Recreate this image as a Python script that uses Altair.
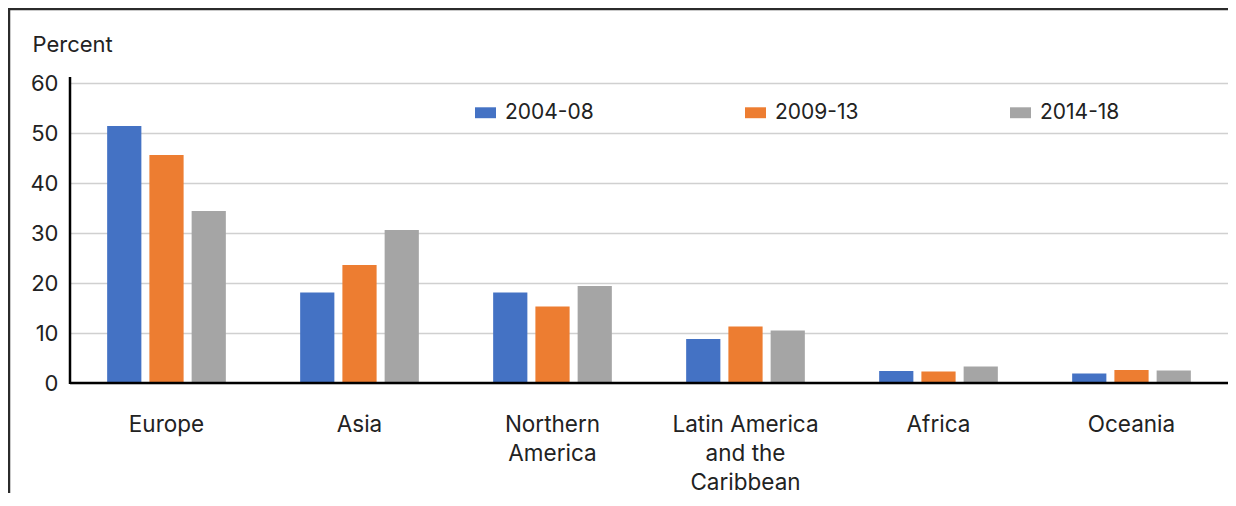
import altair as alt
import pandas as pd

regions = ["Europe", "Asia", "Northern America",
           "Latin America and the Caribbean", "Africa", "Oceania"]
periods = ["2004-08", "2009-13", "2014-18"]
v_2004_08 = [51.4, 18.1, 18.1, 8.8, 2.4, 1.9]
v_2009_13 = [45.6, 23.6, 15.3, 11.3, 2.3, 2.6]
v_2014_18 = [34.4, 30.6, 19.4, 10.5, 3.3, 2.5]
y_ticks = [0, 10, 20, 30, 40, 50, 60]
colors = ["#4472C4", "#ED7D31", "#A5A5A5"]

rows = []
for p, vals in zip(periods, [v_2004_08, v_2009_13, v_2014_18]):
    for r, v in zip(regions, vals):
        rows.append({"region": r, "period": p, "value": v})
df = pd.DataFrame(rows)

W, H = 1158, 300
FONT = "Inter"
TXT = "#222222"

label_expr = (
    "datum.value == 'Northern America' ? ['Northern', 'America'] : "
    "datum.value == 'Latin America and the Caribbean' ? "
    "['Latin America', 'and the', 'Caribbean'] : datum.value"
)

y_axis = alt.Axis(values=y_ticks, title="Percent", titleAngle=0,
                  titleX=-38, titleY=-32, titleAlign="left",
                  titleBaseline="alphabetic", titleFont=FONT,
                  titleFontSize=22, titleFontWeight="normal",
                  titleColor=TXT, labelFont=FONT, labelFontSize=22,
                  labelColor=TXT, labelPadding=12, ticks=False,
                  tickSize=0, domain=False, grid=True,
                  gridColor="#d0d0d0", gridWidth=1.5)
y_scale = alt.Scale(domain=[0, 60])

bars = alt.Chart(df).mark_bar().encode(
    x=alt.X("region:N", sort=regions,
            scale=alt.Scale(paddingInner=0.385, paddingOuter=0.1925),
            axis=alt.Axis(title=None, labelAngle=0, labelExpr=label_expr,
                          labelFont=FONT, labelFontSize=22.5, labelColor=TXT,
                          labelLineHeight=29, labelPadding=48,
                          labelBaseline="alphabetic", labelAlign="center",
                          ticks=False, tickSize=0, domain=False, grid=False)),
    xOffset=alt.XOffset("period:N", sort=periods,
                        scale=alt.Scale(paddingInner=0.19, paddingOuter=0)),
    y=alt.Y("value:Q", scale=y_scale, axis=y_axis),
    color=alt.Color("period:N", sort=periods,
                    scale=alt.Scale(domain=periods, range=colors),
                    legend=alt.Legend(title=None, orient="none",
                                      legendX=405, legendY=19,
                                      direction="horizontal", columns=3,
                                      columnPadding=151,
                                      symbolType="M-1,-0.52H1V0.52H-1Z",
                                      symbolSize=441, symbolStrokeWidth=0,
                                      labelOffset=9, labelFont=FONT,
                                      labelFontSize=21, labelColor=TXT,
                                      padding=0)),
)

zero = alt.Chart(pd.DataFrame({"value": [0]})).mark_rule(
    color="black", strokeWidth=2.5).encode(
    y=alt.Y("value:Q", scale=y_scale, axis=y_axis))

yaxis = alt.Chart(pd.DataFrame({"z": [0]})).mark_rule(
    color="black", strokeWidth=2.5).encode(
    x=alt.value(0), y=alt.value(-6), y2=alt.value(H + 1))

frame_top = alt.Chart(pd.DataFrame({"z": [0]})).mark_rule(
    color="#2b2b2b", strokeWidth=2.5).encode(
    x=alt.value(-61), x2=alt.value(W), y=alt.value(-74))
frame_left = alt.Chart(pd.DataFrame({"z": [0]})).mark_rule(
    color="#2b2b2b", strokeWidth=2.5).encode(
    x=alt.value(-61), y=alt.value(-75), y2=alt.value(H + 140))

chart = alt.layer(bars, zero, yaxis, frame_top, frame_left).properties(
    width=W, height=H,
    autosize=alt.AutoSizeParams(type="none"),
    padding={"left": 62, "top": 75, "right": 0, "bottom": 110},
).configure_view(stroke="transparent", strokeWidth=0).configure(background="white")

chart.save("out.html", embed_options={"renderer": "svg", "actions": False})
